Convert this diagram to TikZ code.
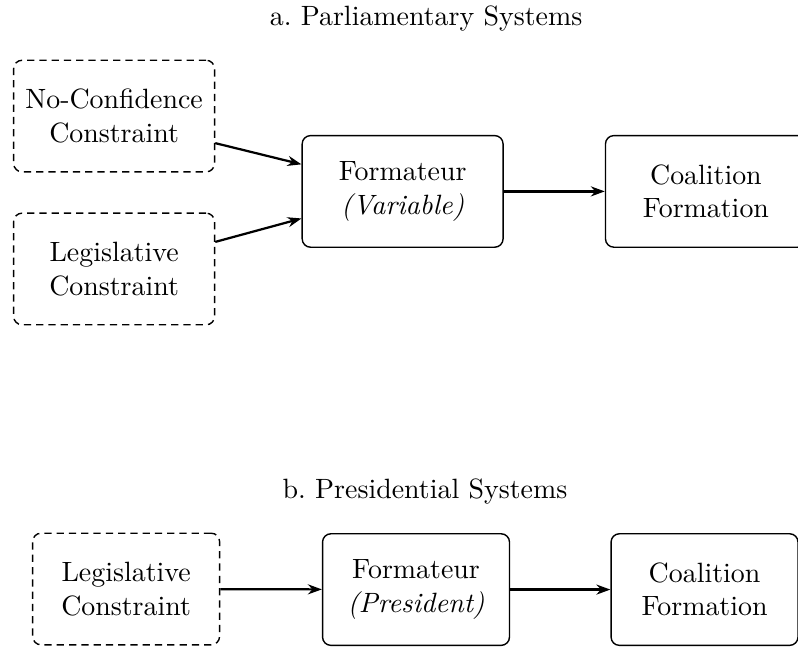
\documentclass[tikz,border=0pt]{standalone}
\usepackage{amsmath}
\usepackage{tikz}
\usetikzlibrary{arrows.meta}

\begin{document}
\begin{tikzpicture}[
  every node/.style={align=center},
  solidbox/.style={draw=black, rounded corners=3pt, line width=0.5pt},
  dashbox/.style={draw=black, rounded corners=3pt, line width=0.5pt, dash pattern=on 2.6pt off 1.8pt},
  wideA/.style={minimum width=72pt, minimum height=40pt},
  wideB/.style={minimum width=67pt, minimum height=40pt},
  link/.style={line width=0.8pt, -{Stealth[length=5pt, width=3.6pt]}}]
\useasboundingbox (0pt, 0pt) rectangle (286pt, -231.9pt);
% a. parliamentary
\node (ta) at (152.7pt, -6.5pt) {a.\ Parliamentary Systems};
\node (nc) [dashbox, wideA] at (40.9pt, -41.6pt) {No-Confidence\\Constraint};
\node (la) [dashbox, wideA] at (40.9pt, -96.4pt) {Legislative\\Constraint};
\node (fa) [solidbox, wideA] at (144.3pt, -68.6pt) {Formateur\\\textit{(Variable)}};
\node (ca) [solidbox, wideA] at (253.0pt, -68.6pt) {Coalition\\Formation};
\draw [link] ([yshift=-9.7pt]nc.east) to ([yshift=9.7pt]fa.west);
\draw [link] ([yshift=9.7pt]la.east) to ([yshift=-9.7pt]fa.west);
\draw [link] (fa) to (ca);
% b. presidential
\node (tb) at (152.3pt, -176.3pt) {b.\ Presidential Systems};
\node (lb) [dashbox, wideB] at (45.2pt, -211.1pt) {Legislative\\Constraint};
\node (fb) [solidbox, wideB] at (149.1pt, -211.3pt) {Formateur\\\textit{(President)}};
\node (cb) [solidbox, wideB] at (252.5pt, -211.3pt) {Coalition\\Formation};
\draw [link] (lb) to (fb);
\draw [link] (fb) to (cb);
\end{tikzpicture}
\end{document}
